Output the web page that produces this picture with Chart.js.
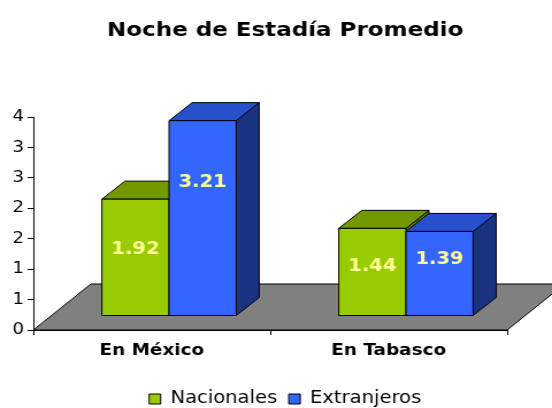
<!DOCTYPE html>
<html>
<head>
<meta charset="utf-8">
<script src="https://cdn.jsdelivr.net/npm/chart.js@4.4.0/dist/chart.umd.min.js"></script>
<style>
  html, body { margin: 0; padding: 0; background: #fff; overflow: hidden; }
  /* the reference is stretched sideways, so the canvas is too */
  #wrap { width: 480px; height: 408px; transform: scaleX(1.15); transform-origin: 0 0; }
</style>
</head>
<body>
<div id="wrap"><canvas id="grafica" width="480" height="408"></canvas></div>
<script>
const categorias = ["En México", "En Tabasco"];
const nacionales = [1.92, 1.44];
const extranjeros = [3.21, 1.39];
const etiquetasY = ["0", "1", "1", "2", "2", "3", "3", "4"];

const fuente = "'DejaVu Sans', Verdana, sans-serif";

// colores de cada cara: frente, tapa, lado
const caras = [
  { frente: "#99CC00", tapa: "#739900", lado: "#5C7A00", etiqueta: 0.42 },
  { frente: "#3366FF", tapa: "#2650CC", lado: "#1A3380", etiqueta: 0.31 },
];

// profundidad del piso y de las barras (en px del lienzo)
const piso = { dx: 50, dy: -46 };
const caja = { dx: 20, dy: -18 };

const cubos3d = {
  id: "cubos3d",
  beforeDatasetsDraw(chart) {
    const ctx = chart.ctx;
    const area = chart.chartArea;
    const y0 = chart.scales.y.getPixelForValue(0);

    // piso gris
    ctx.save();
    ctx.beginPath();
    ctx.moveTo(area.left, y0);
    ctx.lineTo(area.right, y0);
    ctx.lineTo(area.right + piso.dx, y0 + piso.dy);
    ctx.lineTo(area.left + piso.dx, y0 + piso.dy);
    ctx.closePath();
    ctx.fillStyle = "#808080";
    ctx.fill();
    ctx.strokeStyle = "#000";
    ctx.lineWidth = 1;
    ctx.stroke();

    const ox = (piso.dx - caja.dx) / 2;
    const oy = (piso.dy - caja.dy) / 2;

    const n = chart.data.labels.length;
    for (let i = 0; i < n; i++) {
      chart.data.datasets.forEach((ds, d) => {
        const el = chart.getDatasetMeta(d).data[i];
        const p = el.getProps(["x", "y", "base", "width"], true);
        const l = p.x - p.width / 2 + ox;
        const r = p.x + p.width / 2 + ox;
        const t = p.y + oy;
        const b = p.base + oy;
        const c = caras[d];
        ctx.lineWidth = 1;
        ctx.strokeStyle = "#000";
        ctx.lineJoin = "round";

        // lado
        ctx.beginPath();
        ctx.moveTo(r, b);
        ctx.lineTo(r + caja.dx, b + caja.dy);
        ctx.lineTo(r + caja.dx, t + caja.dy);
        ctx.lineTo(r, t);
        ctx.closePath();
        ctx.fillStyle = c.lado;
        ctx.fill();
        ctx.stroke();

        // tapa
        ctx.beginPath();
        ctx.moveTo(l, t);
        ctx.lineTo(l + caja.dx, t + caja.dy);
        ctx.lineTo(r + caja.dx, t + caja.dy);
        ctx.lineTo(r, t);
        ctx.closePath();
        ctx.fillStyle = c.tapa;
        ctx.fill();
        ctx.stroke();

        // frente
        ctx.fillStyle = c.frente;
        ctx.fillRect(l, t, r - l, b - t);
        ctx.strokeRect(l, t, r - l, b - t);

        // valor
        ctx.fillStyle = "#FFFF99";
        ctx.font = "bold 17px " + fuente;
        ctx.textAlign = "center";
        ctx.textBaseline = "middle";
        ctx.fillText(ds.data[i].toFixed(2), (l + r) / 2, t + (b - t) * c.etiqueta + 2);
      });
    }
    ctx.restore();
    return false;
  },
};

new Chart(document.getElementById("grafica"), {
  type: "bar",
  data: {
    labels: categorias,
    datasets: [
      { label: "Nacionales", data: nacionales, backgroundColor: caras[0].frente, borderColor: "#000", borderWidth: 1 },
      { label: "Extranjeros", data: extranjeros, backgroundColor: caras[1].frente, borderColor: "#000", borderWidth: 1 },
    ],
  },
  options: {
    responsive: false,
    animation: false,
    events: [],
    // margen derecho negativo: centra título y leyenda como en el original
    layout: { padding: { left: 0, right: -16, top: 0, bottom: -9.5 } },
    datasets: { bar: { categoryPercentage: 0.567, barPercentage: 1 } },
    scales: {
      x: {
        offset: true,
        grid: { offset: true, drawOnChartArea: false, drawTicks: true, tickLength: 5, color: "#000" },
        border: { display: true, color: "#000" },
        ticks: { color: "#000", padding: 6, font: { family: fuente, size: 16, weight: "bold" } },
        afterFit(scale) { scale.height = 50.5; },
      },
      y: {
        min: 0,
        max: 3.5,
        ticks: {
          stepSize: 0.5,
          color: "#000",
          padding: 3,
          font: { family: fuente, size: 16 },
          callback: (v, i) => etiquetasY[i],
        },
        grid: { drawOnChartArea: false, drawTicks: true, tickLength: 5, color: "#000" },
        border: { display: true, color: "#000" },
        afterFit(scale) { scale.width = 29; },
      },
      // eje vacío a la derecha: solo reserva el espacio del piso en 3D
      derecha: {
        type: "linear",
        position: "right",
        display: true,
        ticks: { display: false },
        grid: { display: false },
        border: { display: false },
        afterFit(scale) { scale.width = 55; },
      },
    },
    plugins: {
      title: {
        display: true,
        text: "Noche de Estadía Promedio",
        color: "#000",
        font: { family: fuente, size: 20, weight: "bold" },
        padding: { top: 19, bottom: 74 },
      },
      legend: {
        position: "bottom",
        labels: {
          color: "#000",
          boxWidth: 10,
          boxHeight: 10,
          padding: 10,
          font: { family: fuente, size: 17 },
        },
      },
      tooltip: { enabled: false },
    },
  },
  plugins: [cubos3d],
});
</script>
</body>
</html>
